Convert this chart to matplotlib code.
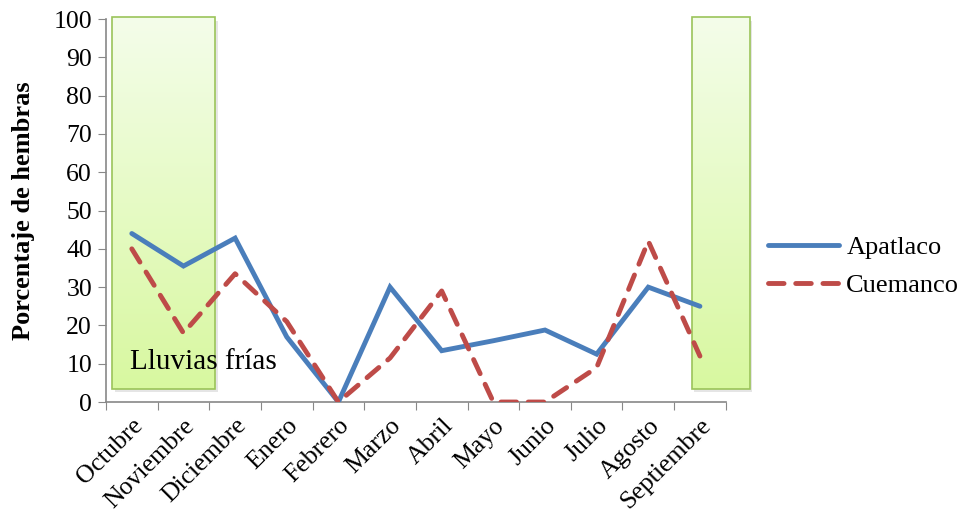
import numpy as np
import matplotlib.pyplot as plt
from matplotlib.patches import Rectangle
from matplotlib.colors import LinearSegmentedColormap

meses = ['Octubre', 'Noviembre', 'Diciembre', 'Enero', 'Febrero', 'Marzo',
         'Abril', 'Mayo', 'Junio', 'Julio', 'Agosto', 'Septiembre']
apatlaco = [44, 35.5, 42.8, 17, 0, 30, 13.4, 16, 18.8, 12.5, 30, 25]
cuemanco = [40, 18, 33.5, 21, 0, 11.5, 29, 0, 0, 9, 42, 12]

plt.rcParams['font.family'] = ['Liberation Serif', 'DejaVu Serif']

fig = plt.figure(figsize=(9.6, 5.19), dpi=100)
ax = fig.add_axes([0.1104, 0.2254, 0.6456, 0.7379])

x = np.arange(len(meses)) + 0.5

# cajas verdes de "lluvias frias"
grad = np.linspace(0, 1, 256).reshape(-1, 1)
cmap = LinearSegmentedColormap.from_list('verde', ['#d8f8a0', '#f4fdea'])
for (x0, x1) in [(0.12, 2.11), (11.34, 12.46)]:
    sh = Rectangle((x0 + 0.05, 2.6), x1 - x0, 97, facecolor='#cccccc', alpha=0.5,
                   edgecolor='none', clip_on=False, zorder=1)
    ax.add_patch(sh)
    ax.imshow(grad, extent=[x0, x1, 3.5, 100.5], origin='lower', cmap=cmap,
              aspect='auto', clip_on=False, zorder=1.5)
    ax.add_patch(Rectangle((x0, 3.5), x1 - x0, 97, facecolor='none',
                           edgecolor='#9bc45a', lw=1.2, clip_on=False, zorder=1.6))

ax.plot(x, apatlaco, color='#4a7ebb', lw=3.5, label='Apatlaco', zorder=3,
        solid_capstyle='round', solid_joinstyle='miter')
ax.plot(x, cuemanco, color='#be4b48', lw=3.5, ls=(0, (3.2, 2.4)), label='Cuemanco',
        zorder=3, dash_capstyle='round')

ax.text(0.46, 10.5, 'Lluvias frías', fontsize=21, va='center', ha='left', zorder=4)

ax.set_xlim(0, 12)
ax.set_ylim(0, 100)
ax.set_yticks(range(0, 101, 10))
ax.set_xticks(range(13))
ax.set_xticklabels([])
ax.set_xticks(x, minor=True)
ax.set_xticklabels(meses, minor=True, rotation=45, ha='right', va='top',
                   rotation_mode='anchor', fontsize=18.5)
ax.tick_params(axis='x', which='minor', length=0, pad=9)
ax.tick_params(axis='x', which='major', length=6, color='#888888')
ax.tick_params(axis='y', length=6, color='#888888', labelsize=18.5, pad=4)
for s in ['top', 'right']:
    ax.spines[s].set_visible(False)
for s in ['left', 'bottom']:
    ax.spines[s].set_color('#888888')
    ax.spines[s].set_linewidth(1.2)
ax.set_ylabel('Porcentaje de hembras', fontsize=19, fontweight='bold', labelpad=13)

ax.legend(loc='center left', bbox_to_anchor=(1.068, 0.354), frameon=False,
          fontsize=19, handlelength=2.7, labelspacing=0.55, handletextpad=0.27,
          borderpad=0, borderaxespad=0)

fig.savefig('out.png', dpi=100)
